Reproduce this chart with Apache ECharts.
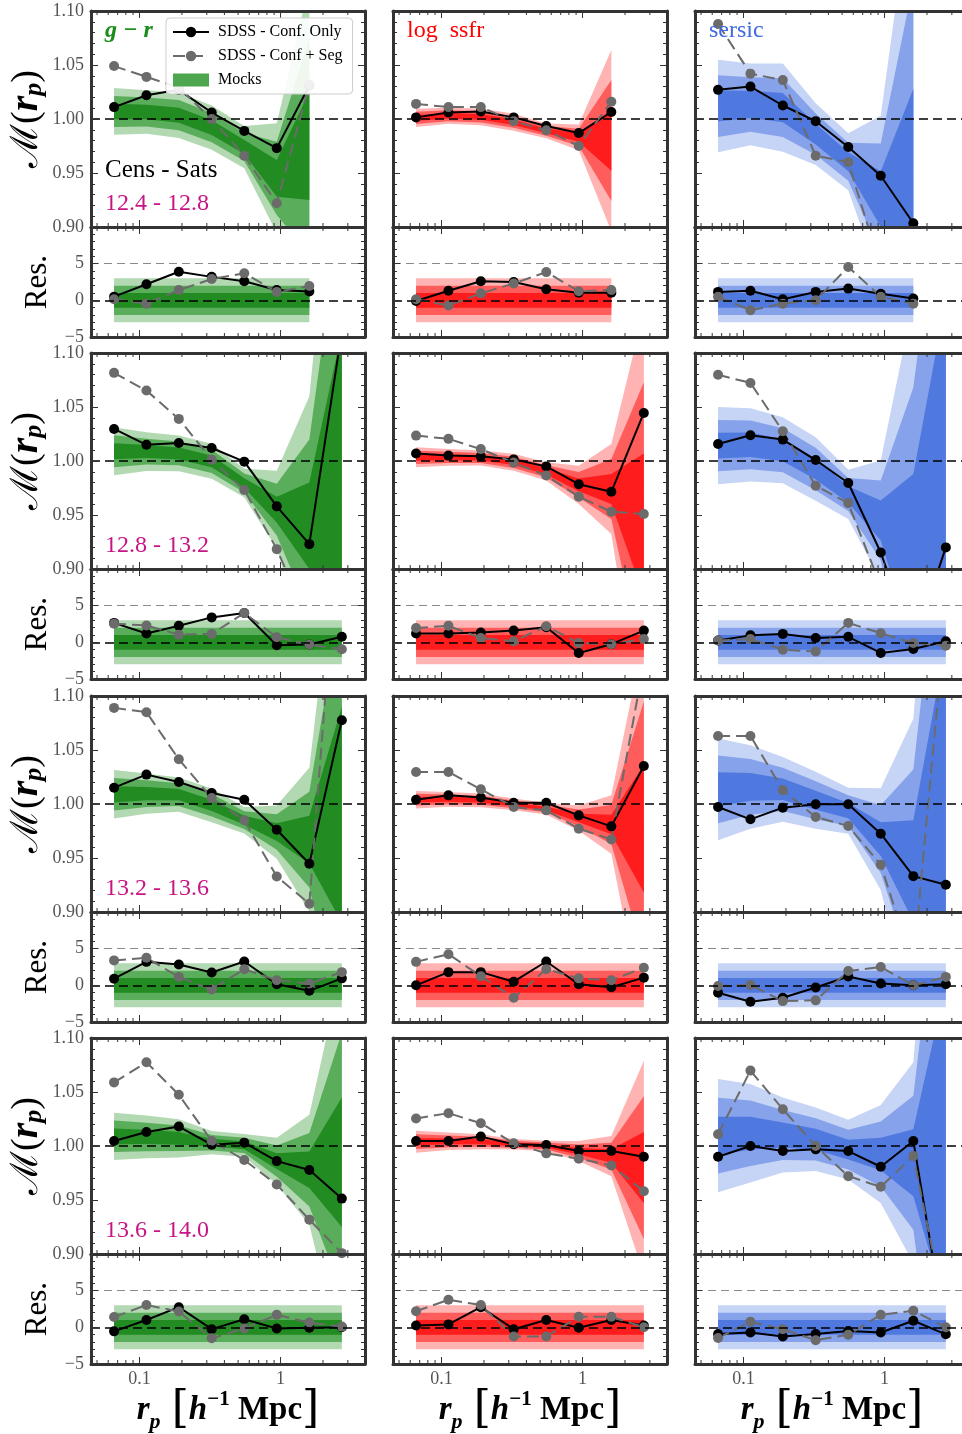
<!DOCTYPE html>
<html><head><meta charset="utf-8">
<script src="https://cdn.jsdelivr.net/npm/echarts@6/dist/echarts.min.js"></script>
<style>html,body{margin:0;padding:0;background:#fff}#c{width:962px;height:1434px}</style>
</head><body><div id="c"></div>
<script>
// ---------- axes / labels ----------
const rp = [0.066, 0.112, 0.19, 0.325, 0.553, 0.94, 1.6, 2.72];
const xMajorTicks = [0.1, 1];
const xTickLabels = ['0.1', '1'];
const xMinorTicks = [0.05, 0.06, 0.07, 0.08, 0.09, 0.2, 0.3, 0.4, 0.5, 0.6, 0.7, 0.8, 0.9, 2, 3];
const massBins = ['12.4 - 12.8', '12.8 - 13.2', '13.2 - 13.6', '13.6 - 14.0'];
const properties = ['g \u2212 r', 'log  ssfr', 'sersic'];
const bandLevels = [3, 2, 1];

// ---------- data: bin 1 (12.4-12.8) ----------
const gr_b1_conf = [1.011, 1.022, 1.027, 1.006, 0.989, 0.973, 1.031];
const gr_b1_seg = [1.049, 1.039, 1.029, 1.000, 0.966, 0.922, 1.032];
const gr_b1_mock = [1.007, 1.0065, 1.0035, 0.992, 0.974, 0.945, 0.975];
const gr_b1_sig = [0.0072, 0.0067, 0.007, 0.0068, 0.0065, 0.017, 0.05];
const gr_b1_res_conf = [0.5, 2.2, 3.9, 3.2, 2.6, 1.4, 1.2];
const gr_b1_res_seg = [0.15, -0.45, 1.4, 2.9, 3.7, 1.15, 1.95];

const ssfr_b1_conf = [1.0015, 1.006, 1.007, 1.0015, 0.9935, 0.987, 1.0065];
const ssfr_b1_seg = [1.014, 1.011, 1.011, 0.998, 0.9895, 0.975, 1.016];
const ssfr_b1_mock = [1.001, 1.003, 1.002, 0.997, 0.989, 0.983, 0.98];
const ssfr_b1_sig = [0.0028, 0.0025, 0.0026, 0.0026, 0.0023, 0.004, 0.028];
const ssfr_b1_res_conf = [-0.1, 1.3, 2.6, 2.5, 1.5, 1.05, 1.05];
const ssfr_b1_res_seg = [0.15, -0.7, 0.95, 2.3, 3.85, 1.25, 1.4];

const sersic_b1_conf = [1.027, 1.030, 1.0125, 0.998, 0.974, 0.9475, 0.9035];
const sersic_b1_seg = [1.088, 1.042, 1.036, 0.966, 0.960, 0.862, 0.88];
const sersic_b1_mock = [1.012, 1.0135, 1.0105, 0.986, 0.9605, 0.926, 0.93];
const sersic_b1_sig = [0.0143, 0.0126, 0.0136, 0.0095, 0.0088, 0.0257, 0.098];
const sersic_b1_res_conf = [1.15, 1.3, 0.15, 1.15, 1.6, 0.9, 0.25];
const sersic_b1_res_seg = [0.5, -1.35, -0.45, 0, 4.55, 0.5, -0.45];

// ---------- data: bin 2 (12.8-13.2) ----------
const gr_b2_conf = [1.0297, 1.015, 1.0167, 1.012, 0.9994, 0.958, 0.923, 1.12];
const gr_b2_seg = [1.0816, 1.0652, 1.039, 1.0012, 0.9731, 0.9184, 0.85, 0.87];
const gr_b2_mock = [1.009, 1.0087, 1.007, 0.9997, 0.9796, 0.955, 0.94, 1.0];
const gr_b2_sig = [0.0074, 0.006, 0.0055, 0.0054, 0.0044, 0.012, 0.04, 0.12];
const gr_b2_res_conf = [2.65, 1.2, 2.25, 3.4, 4.0, -0.4, -0.3, 0.75];
const gr_b2_res_seg = [2.55, 2.3, 1.05, 1.15, 4.0, 0.7, -0.3, -0.95];

const ssfr_b2_conf = [1.007, 1.005, 1.0043, 1.0015, 0.995, 0.9785, 0.9715, 1.0445];
const ssfr_b2_seg = [1.0235, 1.0205, 1.011, 0.9985, 0.9865, 0.967, 0.953, 0.951];
const ssfr_b2_mock = [1.0034, 1.0034, 1.0028, 0.9988, 0.9904, 0.978, 0.974, 0.941];
const ssfr_b2_sig = [0.0031, 0.0026, 0.0023, 0.0026, 0.0028, 0.0059, 0.0139, 0.066];
const ssfr_b2_res_conf = [1.2, 1.2, 1.35, 1.6, 2.05, -1.45, -0.25, 1.6];
const ssfr_b2_res_seg = [1.95, 2.25, 0.6, 0.15, 2.2, -0.1, -0.25, 0.45];

const sersic_b2_conf = [1.0158, 1.0238, 1.0198, 1.0009, 0.9796, 0.9153, 0.83, 0.920];
const sersic_b2_seg = [1.0798, 1.0723, 1.0275, 0.9771, 0.961, 0.884, 0.86, 0.87];
const sersic_b2_mock = [1.0142, 1.015, 1.0099, 0.9926, 0.969, 0.945, 0.908, 1.0];
const sersic_b2_sig = [0.0119, 0.0113, 0.0102, 0.0098, 0.0076, 0.0185, 0.08, 0.15];
const sersic_b2_res_conf = [0.25, 0.95, 1.15, 0.6, 0.75, -1.45, -0.9, 0.15];
const sersic_b2_res_seg = [0.25, 0.45, -1.0, -1.25, 2.65, 1.25, -0.1, -0.45];

// ---------- data: bin 3 (13.2-13.6) ----------
const gr_b3_conf = [1.0151, 1.0272, 1.0204, 1.0102, 1.004, 0.9762, 0.9447, 1.0776];
const gr_b3_seg = [1.089, 1.085, 1.0414, 1.0056, 0.9849, 0.9329, 0.9076, 1.3];
const gr_b3_mock = [1.009, 1.0096, 1.0087, 0.9988, 0.985, 0.974, 0.967, 0.99];
const gr_b3_sig = [0.0075, 0.0062, 0.0053, 0.0052, 0.0041, 0.0082, 0.0222, 0.1];
const gr_b3_res_conf = [0.9, 3.2, 2.85, 1.75, 3.25, 0.15, -0.75, 0.95];
const gr_b3_res_seg = [3.4, 3.75, 1.15, -0.55, 2.2, 0.7, 0.25, 1.8];

const ssfr_b3_conf = [1.004, 1.008, 1.006, 1.0012, 1.0012, 0.9895, 0.9793, 1.0352];
const ssfr_b3_seg = [1.0297, 1.0297, 1.0136, 0.9972, 0.9941, 0.9771, 0.9672, 1.13];
const ssfr_b3_mock = [1.004, 1.0043, 1.0034, 0.9997, 0.9957, 0.987, 0.981, 0.977];
const ssfr_b3_sig = [0.0027, 0.0023, 0.0021, 0.0018, 0.0018, 0.0039, 0.009, 0.059];
const ssfr_b3_res_conf = [0, 1.8, 1.8, 0.5, 3.25, 0.15, -0.25, 1.05];
const ssfr_b3_res_seg = [3.2, 4.25, 1.25, -1.7, 2.2, 0.95, 0.7, 2.4];

const sersic_b3_conf = [0.9972, 0.9858, 0.9966, 0.9997, 0.9997, 0.9725, 0.9332, 0.9252];
const sersic_b3_seg = [1.063, 1.063, 1.0127, 0.988, 0.9796, 0.9437, 0.85, 1.178];
const sersic_b3_mock = [1.0136, 1.0158, 1.0136, 1.0034, 0.9938, 0.9675, 0.938, 1.0];
const sersic_b3_sig = [0.0157, 0.0129, 0.01, 0.0088, 0.0071, 0.0157, 0.047, 0.15];
const sersic_b3_res_conf = [-1.0, -2.25, -1.7, -0.3, 1.2, 0.25, 0, 0.15];
const sersic_b3_res_seg = [-0.1, 0.05, -2.15, -2.05, 1.95, 2.5, 0, 1.15];

// ---------- data: bin 4 (13.6-14.0) ----------
const gr_b4_conf = [1.0047, 1.013, 1.018, 1.0012, 1.0031, 0.986, 0.9777, 0.9513];
const gr_b4_seg = [1.0589, 1.0775, 1.0474, 1.0047, 0.987, 0.9643, 0.9318, 0.9008];
const gr_b4_mock = [1.009, 1.0084, 1.0071, 1.0031, 1.0006, 0.986, 0.978, 0.985];
const gr_b4_sig = [0.0073, 0.0066, 0.0059, 0.0036, 0.0035, 0.0072, 0.017, 0.06];
const gr_b4_res_conf = [-0.55, 1.0, 2.75, -0.25, 1.1, -0.15, -0.05, 0];
const gr_b4_res_seg = [1.4, 3.05, 2.15, -1.5, -0.15, 1.7, 0.65, 0.1];

const ssfr_b4_conf = [1.0047, 1.0047, 1.0087, 1.0016, 1.0009, 0.9953, 0.9953, 0.9901];
const ssfr_b4_seg = [1.0254, 1.0304, 1.0211, 1.0025, 0.9932, 0.9882, 0.982, 0.9581];
const ssfr_b4_mock = [1.004, 1.0043, 1.004, 1.0016, 1.0, 0.9953, 0.9907, 0.98];
const ssfr_b4_sig = [0.0034, 0.0027, 0.0023, 0.0016, 0.0016, 0.0031, 0.0062, 0.033];
const ssfr_b4_res_conf = [0.25, 0.4, 2.75, -0.25, 1.0, -0.05, 1.0, 0.25];
const ssfr_b4_res_seg = [2.2, 3.75, 3.05, -1.25, -1.25, 1.45, 1.45, 0];

const sersic_b4_conf = [0.9901, 1.0, 0.9953, 0.9969, 0.9953, 0.9808, 1.0047, 0.825];
const sersic_b4_seg = [1.0109, 1.0698, 1.0341, 1.0, 0.9721, 0.9622, 0.9907, 0.843];
const sersic_b4_mock = [1.0096, 1.0118, 1.0102, 1.0062, 0.9966, 0.9926, 0.9845, 1.0];
const sersic_b4_sig = [0.0175, 0.0152, 0.0116, 0.0098, 0.0092, 0.0151, 0.031, 0.15];
const sersic_b4_res_conf = [-0.9, -0.7, -1.25, -0.9, -0.5, -0.7, 0.9, -0.95];
const sersic_b4_res_seg = [-1.45, 0.75, -0.25, -1.75, -1.0, 1.7, 2.25, 0];

const P = [
  [[gr_b1_conf, gr_b1_seg, gr_b1_mock, gr_b1_sig, gr_b1_res_conf, gr_b1_res_seg],
   [ssfr_b1_conf, ssfr_b1_seg, ssfr_b1_mock, ssfr_b1_sig, ssfr_b1_res_conf, ssfr_b1_res_seg],
   [sersic_b1_conf, sersic_b1_seg, sersic_b1_mock, sersic_b1_sig, sersic_b1_res_conf, sersic_b1_res_seg]],
  [[gr_b2_conf, gr_b2_seg, gr_b2_mock, gr_b2_sig, gr_b2_res_conf, gr_b2_res_seg],
   [ssfr_b2_conf, ssfr_b2_seg, ssfr_b2_mock, ssfr_b2_sig, ssfr_b2_res_conf, ssfr_b2_res_seg],
   [sersic_b2_conf, sersic_b2_seg, sersic_b2_mock, sersic_b2_sig, sersic_b2_res_conf, sersic_b2_res_seg]],
  [[gr_b3_conf, gr_b3_seg, gr_b3_mock, gr_b3_sig, gr_b3_res_conf, gr_b3_res_seg],
   [ssfr_b3_conf, ssfr_b3_seg, ssfr_b3_mock, ssfr_b3_sig, ssfr_b3_res_conf, ssfr_b3_res_seg],
   [sersic_b3_conf, sersic_b3_seg, sersic_b3_mock, sersic_b3_sig, sersic_b3_res_conf, sersic_b3_res_seg]],
  [[gr_b4_conf, gr_b4_seg, gr_b4_mock, gr_b4_sig, gr_b4_res_conf, gr_b4_res_seg],
   [ssfr_b4_conf, ssfr_b4_seg, ssfr_b4_mock, ssfr_b4_sig, ssfr_b4_res_conf, ssfr_b4_res_seg],
   [sersic_b4_conf, sersic_b4_seg, sersic_b4_mock, sersic_b4_sig, sersic_b4_res_conf, sersic_b4_res_seg]]
];

// ---------- styling / layout ----------
const bandColors = [
  ['#b3d9b3', '#5aad5a', '#228b22'],
  ['#ffb3b3', '#ff5c5c', '#ff1c1c'],
  ['#c6d4f6', '#86a2eb', '#5079e0']
];
const titleColors = ['#1a8c1a', '#ff0000', '#4169e1'];
const serif = 'Liberation Serif';
const frame = '#333';
const colLeft = [91, 393, 695], panelW = 274;
const rowTop = [11, 353, 696, 1038], mainH = 216, resH = 110;
const xMin = 0.0453, xMax = 3.97;

const grids = [], xAxes = [], yAxes = [], series = [];

function addGrid(left, top, h, ymin, ymax, yInt, o) {
  const g = grids.length;
  grids.push({left, top, width: panelW, height: h, outerBoundsMode: 'none', containLabel: false});
  const axLine = {show: true, onZero: false, lineStyle: {color: frame, width: 3}};
  const tickLS = {color: frame, width: 1};
  xAxes.push({
    gridIndex: g, type: 'log', logBase: 10, min: xMin, max: xMax, position: 'bottom', z: 10,
    axisLine: axLine, axisTick: {show: false}, splitLine: {show: false},
    axisLabel: {show: !!o.xLabels, showMinLabel: false, showMaxLabel: false, margin: 6,
      fontFamily: serif, fontSize: 18, color: '#555',
      formatter: v => { for (let i = 0; i < xMajorTicks.length; i++) if (Math.abs(v / xMajorTicks[i] - 1) < 1e-6) return xTickLabels[i]; return ''; }},
    name: o.xName || '', nameLocation: 'middle', nameGap: 22,
    nameTextStyle: o.xNameStyle || {}
  });
  xAxes.push({
    gridIndex: g, type: 'log', logBase: 10, min: xMin, max: xMax, position: 'top', z: 10,
    axisLine: axLine, axisTick: {show: false}, axisLabel: {show: false}, splitLine: {show: false}
  });
  const yCommon = {
    gridIndex: g, type: 'value', min: ymin, max: ymax, interval: yInt, z: 10,
    axisLine: axLine, splitLine: {show: false},
    axisTick: {show: true, inside: true, length: 7, lineStyle: tickLS},
    minorTick: {show: true, splitNumber: 5, length: 4, lineStyle: tickLS}
  };
  yAxes.push(Object.assign({}, yCommon, {
    position: 'left',
    axisLabel: {show: !!o.yLabels, margin: 7, fontFamily: serif, fontSize: 18, color: '#555',
      showMaxLabel: o.showMax !== false, formatter: o.yFmt},
    name: o.yName || '', nameLocation: 'middle', nameRotate: 90, nameGap: o.yNameGap || 40,
    nameTextStyle: o.yNameStyle || {}
  }));
  yAxes.push(Object.assign({}, yCommon, {position: 'right', axisLabel: {show: false}}));
  return g;
}

function bandSeries(g, xs, lo, hi, color, name) {
  const data = xs.map((x, i) => [x, lo[i], hi[i]]);
  return {
    type: 'custom', name: name, xAxisIndex: 2 * g, yAxisIndex: 2 * g, clip: true, silent: true, z: 1,
    data: data,
    renderItem: (params, api) => {
      if (params.dataIndex !== 0) return null;
      const top = data.map(d => api.coord([d[0], d[2]]));
      const bot = data.map(d => api.coord([d[0], d[1]])).reverse();
      return {type: 'polygon', shape: {points: top.concat(bot)}, style: {fill: color}};
    }
  };
}

function tickSeries(g, ymin, ymax) {
  const data = xMajorTicks.map(v => [v, 7]).concat(xMinorTicks.map(v => [v, 4]));
  return {
    type: 'custom', xAxisIndex: 2 * g, yAxisIndex: 2 * g, silent: true, z: 12, clip: false, data: data,
    renderItem: (params, api) => {
      const v = api.value(0), L = api.value(1);
      const b = api.coord([v, ymin]), t = api.coord([v, ymax]);
      return {type: 'group', children: [
        {type: 'line', shape: {x1: b[0], y1: b[1], x2: b[0], y2: b[1] - L}, style: {stroke: frame, lineWidth: 1}},
        {type: 'line', shape: {x1: t[0], y1: t[1], x2: t[0], y2: t[1] + L}, style: {stroke: frame, lineWidth: 1}}
      ]};
    }
  };
}

function lineSeries(g, name, xs, ys, color, dashed, refLines) {
  const s = {
    type: 'line', name: name, xAxisIndex: 2 * g, yAxisIndex: 2 * g, z: 3, clip: true,
    data: xs.map((x, i) => [x, ys[i]]),
    symbol: 'circle', symbolSize: 10, showSymbol: true,
    itemStyle: {color: color},
    lineStyle: {color: color, width: 2, type: dashed ? [12, 6] : 'solid'}
  };
  if (refLines) {
    s.markLine = {silent: true, symbol: ['none', 'none'], label: {show: false}, animation: false,
      data: refLines};
  }
  return s;
}

const mName = '{m|\u2133}{p|(}{r|r}{s|p}{p|)}';
const mNameStyle = {rich: {
  m: {fontFamily: 'DejaVu Serif', fontSize: 38, color: '#000'},
  p: {fontFamily: serif, fontSize: 38, color: '#000'},
  r: {fontFamily: serif, fontSize: 40, fontStyle: 'italic', fontWeight: 'bold', color: '#000'},
  s: {fontFamily: serif, fontSize: 26, fontStyle: 'italic', fontWeight: 'bold', color: '#000', verticalAlign: 'bottom'}
}};
const resNameStyle = {fontFamily: serif, fontSize: 31, color: '#000'};
const xName = '{r|r}{s|p}{g|  }{b|[}{r|h}{u|\u22121}{m| Mpc}{b|]}';
const xNameStyle = {rich: {
  r: {fontFamily: serif, fontSize: 33, fontStyle: 'italic', fontWeight: 'bold', color: '#000'},
  s: {fontFamily: serif, fontSize: 22, fontStyle: 'italic', fontWeight: 'bold', color: '#000', verticalAlign: 'bottom'},
  u: {fontFamily: serif, fontSize: 21, fontWeight: 'bold', color: '#000', verticalAlign: 'top'},
  m: {fontFamily: serif, fontSize: 33, fontWeight: 'bold', color: '#000'},
  g: {fontSize: 20},
  b: {fontFamily: 'DejaVu Serif', fontSize: 44, fontWeight: 'normal', color: '#000'}
}};

for (let r = 0; r < 4; r++) {
  for (let c = 0; c < 3; c++) {
    const [conf, seg, mock, sig, rconf, rseg] = P[r][c];
    const n = conf.length;
    const xs = rp.slice(0, n);
    const cols = bandColors[c];
    // main panel
    const gm = addGrid(colLeft[c], rowTop[r], mainH, 0.9, 1.1, 0.05, {
      yLabels: c === 0, yFmt: v => v.toFixed(2),
      yName: c === 0 ? mName : '', yNameStyle: mNameStyle, yNameGap: 44
    });
    bandLevels.forEach((k, li) => {
      const lo = mock.map((m, i) => m - k * sig[i]);
      const hi = mock.map((m, i) => m + k * sig[i]);
      const nm = (r === 0 && c === 0 && k === 2) ? 'Mocks' : ('band' + r + c + k);
      series.push(bandSeries(gm, xs, lo, hi, cols[li], nm));
    });
    series.push(lineSeries(gm, 'SDSS - Conf. Only', xs, conf, '#000', false,
      [{yAxis: 1, lineStyle: {color: '#000', width: 1.5, type: [9, 5]}}]));
    series.push(lineSeries(gm, 'SDSS - Conf + Seg', xs, seg, '#6b6b6b', true));
    series.push(tickSeries(gm, 0.9, 1.1));
    // residual panel
    const gres = addGrid(colLeft[c], rowTop[r] + mainH, resH, -5, 10, 5, {
      yLabels: c === 0, showMax: false, yFmt: v => v < 0 ? '\u2212' + (-v) : String(v),
      yName: c === 0 ? 'Res.' : '', yNameStyle: resNameStyle, yNameGap: 38,
      xLabels: r === 3, xName: r === 3 ? xName : '', xNameStyle: xNameStyle
    });
    const xr = [xs[0], xs[n - 1]];
    bandLevels.forEach((k, li) => {
      series.push(bandSeries(gres, xr, [-k, -k], [k, k], cols[li], 'rband' + r + c + k));
    });
    series.push(lineSeries(gres, 'SDSS - Conf. Only', xs, rconf, '#000', false,
      [{yAxis: 0, lineStyle: {color: '#000', width: 1.5, type: [9, 5]}},
       {yAxis: 5, lineStyle: {color: '#8a8a8a', width: 1.2, type: [8, 5]}}]));
    series.push(lineSeries(gres, 'SDSS - Conf + Seg', xs, rseg, '#6b6b6b', true));
    series.push(tickSeries(gres, -5, 10));
  }
}

const graphic = [];
const titleLeft = [105, 407, 709];
properties.forEach((t, c) => {
  graphic.push({type: 'text', left: titleLeft[c], top: 19, z: 100,
    style: {text: t, fill: titleColors[c], fontFamily: serif, fontSize: 24,
      fontStyle: c === 0 ? 'italic' : 'normal', fontWeight: c === 0 ? 'bold' : 'normal'}});
});
graphic.push({type: 'text', left: 105, top: 158, z: 100,
  style: {text: 'Cens - Sats', fill: '#000', fontFamily: serif, fontSize: 25}});
massBins.forEach((t, r) => {
  graphic.push({type: 'text', left: 105, top: rowTop[r] + 181, z: 100,
    style: {text: t, fill: '#c71585', fontFamily: serif, fontSize: 24}});
});

const chart = echarts.init(document.getElementById('c'), null, {renderer: 'canvas'});
chart.setOption({
  animation: false,
  backgroundColor: '#fff',
  grid: grids, xAxis: xAxes, yAxis: yAxes, series: series, graphic: graphic,
  legend: {
    left: 166, top: 18, orient: 'vertical', itemGap: 8, itemWidth: 36, itemHeight: 13,
    padding: [6, 10, 6, 6], backgroundColor: 'rgba(255,255,255,0.9)', borderColor: '#cccccc',
    borderWidth: 1, borderRadius: 4, z: 50,
    textStyle: {fontFamily: serif, fontSize: 16, color: '#000', padding: [0, 0, 0, 4]},
    data: [
      {name: 'SDSS - Conf. Only'},
      {name: 'SDSS - Conf + Seg'},
      {name: 'Mocks', icon: 'rect', itemStyle: {color: '#4ea64e'}}
    ]
  }
});
</script></body></html>
